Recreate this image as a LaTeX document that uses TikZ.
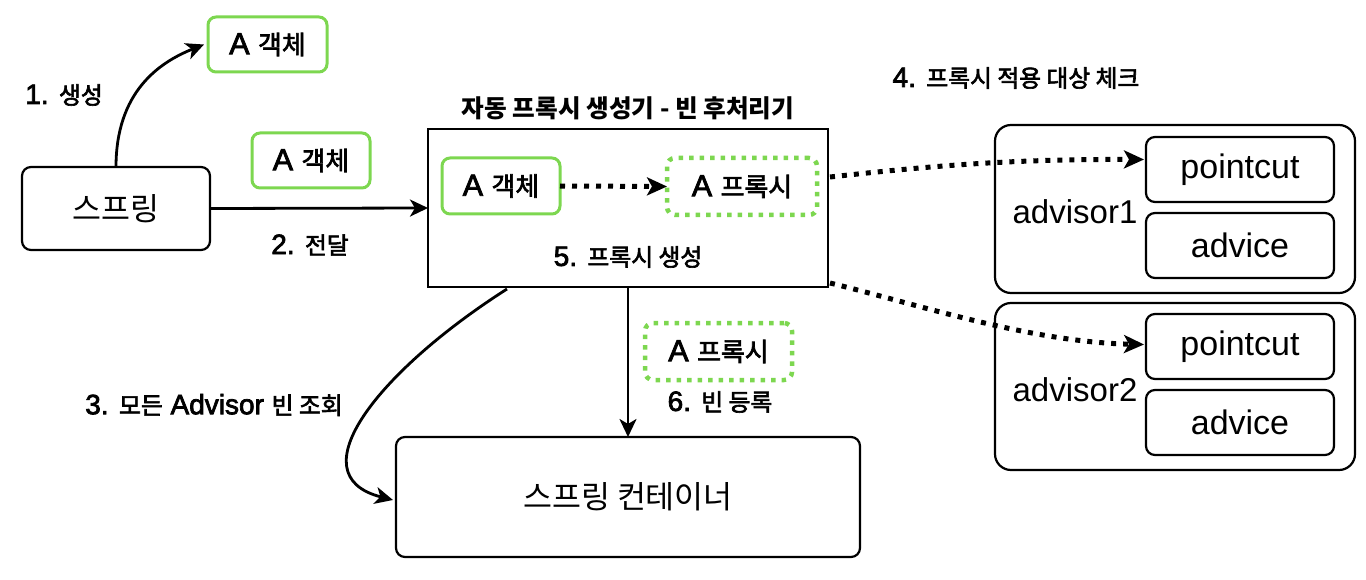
\documentclass[tikz,border=0pt]{standalone}
\usepackage{fontspec}
\setmainfont{Liberation Sans}
\newfontfamily\krf[Scale=0.85]{Noto Sans CJK KR}
\newfontfamily\krmed[Scale=0.85,FakeBold=2.6]{Noto Sans CJK KR}
\newfontfamily\latmed[FakeBold=2.6]{Liberation Sans}
\newcommand\kr[1]{{\krf #1}}
\newcommand\krm[1]{{\krmed #1}}
\usetikzlibrary{arrows.meta,calc}
\definecolor{grn}{RGB}{125,215,80}
\tikzset{
  every node/.style={inner sep=0pt, outer sep=0pt},
  blackbox/.style={draw=black, line width=2.2pt, rounded corners=9pt, fill=white},
  outerbox/.style={draw=black, line width=2.2pt, rounded corners=16pt},
  mainbox/.style={draw=black, line width=2.6pt},
  greenbox/.style={draw=grn, line width=3pt, rounded corners=8pt},
  greendot/.style={draw=grn, line width=4.5pt, dash pattern=on 4.5pt off 6pt, rounded corners=8pt},
  arr/.style={line width=2.8pt, -{Stealth[length=18pt,width=17pt,inset=5pt]}},
  dotarr/.style={line width=5pt, dash pattern=on 5pt off 7pt, -{Stealth[length=20pt,width=18pt,inset=5pt]}},
  lbl/.style={font=\fontsize{28}{30}\selectfont\latmed},
  objtxt/.style={font=\fontsize{30.5}{32}\selectfont\latmed},
  bigtxt/.style={font=\fontsize{37}{39}\selectfont},
  pctxt/.style={font=\fontsize{34}{36}\selectfont},
  advtxt/.style={font=\fontsize{33}{35}\selectfont},
  titletxt/.style={font=\fontsize{29}{31}\selectfont\bfseries},
}
\begin{document}
\begin{tikzpicture}[x=1pt,y=-1pt]
\useasboundingbox (0,0) rectangle (1366,580);

% nodes
\node[blackbox, minimum width=188pt, minimum height=83pt, bigtxt] (spring) at (116,208.5) {\kr{스프링}};
\node[greenbox, minimum width=119pt, minimum height=55pt, objtxt] (objA1) at (267.5,44.5) {A \krm{객체}};
\node[greenbox, minimum width=118pt, minimum height=55pt, objtxt] (objA2) at (311,160.5) {A \krm{객체}};
\node[mainbox, minimum width=400pt, minimum height=158pt] (main) at (628,208) {};
\node[titletxt] (title) at (628,108) {\kr{자동 프록시 생성기 - 빈 후처리기}};
\node[greenbox, minimum width=118pt, minimum height=56pt, objtxt] (objA3) at (501,186) {A \krm{객체}};
\node[greendot, minimum width=150pt, minimum height=57pt, objtxt] (proxy1) at (742,186.5) {A \krm{프록시}};
\node[lbl] (lbl5) at (628,257) {5. \krm{프록시 생성}};
\node[blackbox, minimum width=464pt, minimum height=120pt, bigtxt] (container) at (628,497) {\kr{스프링 컨테이너}};
\node[greendot, minimum width=147pt, minimum height=57pt, objtxt] (proxy2) at (718.5,351.5) {A \krm{프록시}};
\node[lbl] (lbl6) at (720,402) {6. \krm{빈 등록}};
\node[lbl] (lbl3) at (214,405) {3. \krm{모든} Advisor \krm{빈 조회}};
\node[lbl] (lbl1) at (64,95) {1. \krm{생성}};
\node[lbl] (lbl2) at (310,245) {2. \krm{전달}};
\node[lbl] (lbl4) at (1016,78) {4. \krm{프록시 적용 대상 체크}};

\node[outerbox, minimum width=360pt, minimum height=168pt] (adv1) at (1175,209) {};
\node[outerbox, minimum width=360pt, minimum height=167pt] (adv2) at (1175,386.5) {};
\node[blackbox, minimum width=188pt, minimum height=65pt, pctxt] (pc1) at (1240,169.5) {pointcut};
\node[blackbox, minimum width=188pt, minimum height=65pt, pctxt] (ad1) at (1240,245.5) {advice};
\node[blackbox, minimum width=188pt, minimum height=65pt, pctxt] (pc2) at (1240,346.5) {pointcut};
\node[blackbox, minimum width=188pt, minimum height=65pt, pctxt] (ad2) at (1240,422.5) {advice};
\node[advtxt] (adv1lbl) at (1075,212) {advisor1};
\node[advtxt] (adv2lbl) at (1075,390) {advisor2};

% connectors
\draw[arr] (spring.north) .. controls +(0,-75) and +(-45,18) .. ([xshift=-4pt]objA1.west);
\draw[arr] (spring.east) -- (main.west);
\draw[dotarr] (objA3.east) -- (proxy1.west);
\draw[dotarr] ($(main.north east)+(2,48)$) .. controls (930,166) and (1010,159) .. ($(pc1.west)+(-2,-10)$);
\draw[dotarr] ($(main.south east)+(2,-4)$) .. controls (920,305) and (1030,342) .. ($(pc2.west)+(-2,-2)$);
\draw[arr] ($(main.south west)+(79,2)$) .. controls (380,370) and (295,475) .. ($(container.west)+(-3,3)$);
\draw[arr] (main.south) -- (container.north);
\end{tikzpicture}
\end{document}
